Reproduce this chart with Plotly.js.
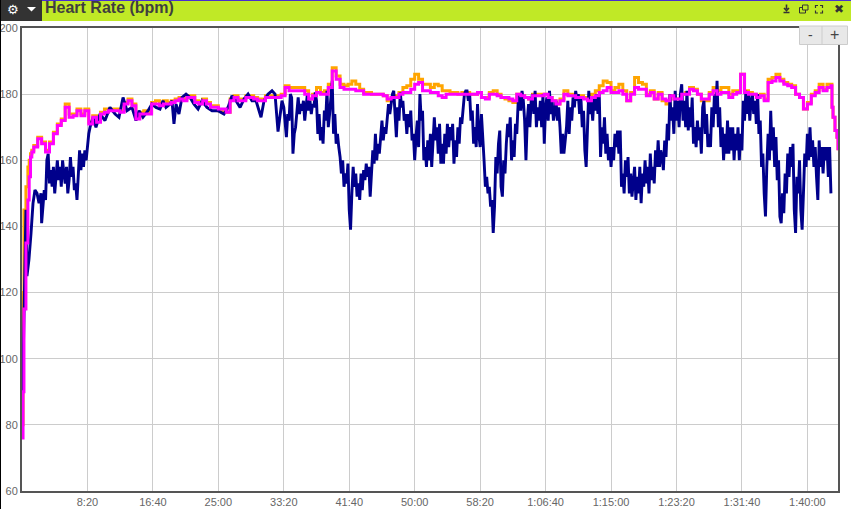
<!DOCTYPE html>
<html><head><meta charset="utf-8">
<script src="https://cdn.plot.ly/plotly-3.0.1.min.js"></script>
<style>html,body{margin:0;padding:0;background:#fff;overflow:hidden}#chart{width:851px;height:509px}</style>
</head><body><div id="chart"></div>
<script>
const chartTitle = "Heart Rate (bpm)";
const xTickSeconds = [500,1000,1500,2000,2500,3000,3500,4000,4500,5000,5500,6000];
const xTickLabels = ["8:20","16:40","25:00","33:20","41:40","50:00","58:20","1:06:40","1:15:00","1:23:20","1:31:40","1:40:00"];
const yTicks = [60,80,100,120,140,160,180,200];

const leadTimes = [0,8,15,30,45,55,65,75];
const magentaLead = [76,90,115,135,148,155,161,162.5];
const orangeLead = [80,120,145,152,158,160,162,163];
const tailTimes = [6188,6196,6211,6226,6234];
const magentaTail = [176,173,169,167,163];
const orangeTail = [176,173,169,167,163];

// sampled every 30 s from t = 90 s to 6180 s
const magentaBpm = [
164,166.5,165,162.5,165,168,170.5,172,176,173,
173.5,175,173.5,175,171,173,171.5,174,174.5,175,
175,175,174.5,177,178,176.5,172.5,174,174,174,
177,177,176.5,177,177,177.5,178,178.5,178,179,
179,177.5,177,178,177,176,176,175.5,175.5,174.5,
178,179,178,178,179,179,178.5,178,178,179,
179,179,179,179.5,182,181,181,181,181,180,
178.5,179.5,180.5,180,180,182,187,184.5,182,181.5,
181.5,181.5,181,181,180,180,180,180,180,179.5,
178.5,179,179,180,180.5,180.5,181.5,183,183.5,181,
181,180.5,180.5,179.5,179,180,180,180,180,180,
180,180,180,180.5,179,178.5,180,180,179.5,179,
179,178.5,178,180,179.5,179,178.5,179.5,179.5,179.5,
180,179,178,177,178,180,179.5,179.5,179,179,
178.5,178,179,179.5,180.5,181,182,180.5,180.5,181,
180,178,180,182,181.5,181.5,179.5,180.5,178.5,180,
178.5,178,179.5,178.5,178.5,180,180,181.5,181,180,
178.5,178.5,180,181,180,180.5,180.5,179,180,180.5,
186,180.5,180,180,179,179.5,178,183.5,184,185,
184,183,182.5,182,180,179,175.5,177,179.5,180.5,
182,181,182,182.5];

const orangeBpm = [
164.5,167,165.5,163,165.5,168.5,171,172.5,177,174,
174,175.5,174,175.5,171.5,173.5,172,174.5,175.5,175.5,
175.5,175.5,175,177.5,178.5,177,173,174.5,175,174.5,
177.5,178,177,178,177.5,178,178.5,179,178.5,179.5,
179.5,178,177.5,178.5,177.5,176.5,176.5,175,174.5,174.5,
178.5,179.5,178.5,178.5,179.5,179.5,179,178.5,178.5,179.5,
179.5,179.5,179.5,180,182.5,182,182,182,182,181,
178.5,180,182,180.5,181,183,188,185.5,183,182.5,
183,184,183,181.5,180.5,180.5,180,180,180,179.5,
178,179,179.5,180.5,182,182.5,184.5,186,184.5,183,
183,182,183,182.5,181,181,180.5,180.5,180,180.5,
180.5,180,180,180.5,179,179,180.5,181,180,179,
178.5,178,177.5,180,179.5,179,178.5,180,180,180,
180,179,178,177,178.5,181,180,180,179.5,179.5,
179,179,180,181,182.5,184,183.5,181,182,183,
181,178,180.5,185,183.5,183,180,181,178.5,180.5,
178,177,179.5,178.5,178.5,180,180.5,182,181.5,180,
178,178,180.5,182,181,182,182,180,181,181,
186,181,180.5,180,179.5,180,178.5,184.5,185,186,
184.5,183.5,183,182.5,180,179,175.5,177.5,180,181,
183,181.5,183,183];

// dark blue trace: warm-up points, then every 10 s from 150 s to 510 s
const blueWarmupTimes = [0,8,15,30,38,53,69,84,99,115,130,145];
const blueWarmupBpm = [80,100,118,145,125,130,138,147,151,150,147,150];
const blueClimbBpm = [
141,146,151,148,160,162,153,157,152,158,
150,155,160,154,158,152,160,156,153,158,
150,154,161,155,158,151,153,148,156,163,
157,162,158,163,160,165,168];

// settled section, read at irregular times
const blueSteadyTimes = [520,542,565,596,634,672,711,741,772,802,840,871,894,924,963,993,1024,1054,1077,1100,
1131,1146,1161,1177,1199,1222,1253,1284,1314,1345,1375,1413,1452,1497,1543,1574,1604,1635,1666,1696,
1727,1757,1788,1803,1826,1849,1879,1910,1933,1956,1986];
const blueSteadyBpm = [170,173,170,174,172,176,174,173,179,175,176,172,175,173,175,177,176,175.5,178,176,
177,178,171,177,174,179,180,179,177,175.5,178,176,175,175,174,176,179.5,178,176,178.5,
180,178,178,176,173,178,180,181,180,168.7,178];

// main section, every 10 s from 2000 s
const blueMainBpm = [
176,170,167,174,172,180,179,162,168,170,
176,179,174,177,175,178,172,177,180,175,
178,174,177,176,180.5,178,168,174,166,170,
165,175,172,181,170,174,178,184,168,174,
165,168,164,161,156,160,152,156,153,159,
145,139,150,158,152,156,149,153,148,156,
151,157,154,159,155,158,149,158,163,159,
168,160,165,162,168,172,166,170,168,173,
177,174,178,180,181,174,167,176,172,180.5,
176,178,172,174,168,174,170,175,166,168,
160,167,172,164,180,172,175,160,164,158,
166,160,168,158,165,173,166,170,162,171,
159,165,159,168,162,171,164,170,166,171,
159,166,161,170,165,173,171,177,180,181,
181,178,180,172,175,165,170,164,177,168,
164,174,168,160,152,155,150,152,146,148,
138,146,161,156,165,169,152,149,160,156,
165,171,167,173,160,166,161,171,168,177,
180,175,181,178,172,160,172,177,170,178,
180,174,181,170,176,172,178,170,180,165,
176,179,172,181,174,178,172,176,178,172,
176,170,162,168,162,166,170,178,168,176,
172,179,176,181,178,180,174,179,170,175,
163,158,172,181,174,178,172,179,175,180,
174,180,161,170,165,173,162,168,160,164,
158,164,160,168,164,169,162,169,152,156,
150,160,155,161,150,156,149,153,158,148,
155,150,158,147,156,152,160,153,158,150,
162,154,158,153,163,158,166,158,163,161,
157,166,161,171,166,180,172,176,168,181,
172,178,170,180,183,172,178,170,181,169,
176,170,179,165,170,164,172,166,170,162,
176,178,168,174,164,168,164,176,170,180,
174,184,170,176,164,170,160,168,162,172,
162,170,163,170,160,168,163,170,160,168,
163,178,172,181,174,180,172,178,180,174,
178,171,180,168,172,158,162,150,143,158,
168,160,175,163,170,158,167,154,160,143,
141,150,144,156,150,162,155,164,158,165,
145,138,155,150,160,145,139,150,162,158,
168,160,170,161,166,158,164,155,148,166,
158,164,156,164,160,164,155,164,150];

const blueTimes = blueWarmupTimes
  .concat(blueClimbBpm.map((_, i) => 150 + i * 10))
  .concat(blueSteadyTimes)
  .concat(blueMainBpm.map((_, i) => 2000 + i * 10));
const blueBpm = blueWarmupBpm.concat(blueClimbBpm, blueSteadyBpm, blueMainBpm);

const plotLeft = 22, plotRight = 838, plotTop = 28, plotBottom = 491;
const px = x => (x - plotLeft) / (plotRight - plotLeft);
const py = y => (plotBottom - y) / (plotBottom - plotTop);
const rect = (x0,y0,x1,y1,fill,line) => ({type:'rect',xref:'paper',yref:'paper',x0:px(x0),x1:px(x1),y0:py(y0),y1:py(y1),fillcolor:fill,line:{width:line?1:0,color:line||fill},layer:'above'});
const path = (pts,fill,stroke,w) => ({type:'path',xref:'paper',yref:'paper',
  path:pts.map(s=>s.map((p,i)=>(i?'L':'M')+px(p[0])+','+py(p[1])).join(' ')+(fill?' Z':'')).join(' '),
  fillcolor:fill||'rgba(0,0,0,0)',line:{width:stroke?(w||1):0,color:stroke||'rgba(0,0,0,0)'},layer:'above'});

const shapes = [
  rect(0,0,851,21,'#c0e926'),
  rect(0,0,851,1,'#4a2fd0'),
  rect(0,0,42,21,'#333333'),
  rect(0,0,1,509,'#000000'),
  path([[[27,7],[36,7],[31.5,11.5]]],'#ffffff'),
  path([[[786.5,4.5],[786.5,9]],[[784,8],[786.5,10.5],[789,8]],[[783.5,12.5],[789.5,12.5]]],null,'#333333',1.6),
  rect(799.5,7.5,805.5,13,'rgba(0,0,0,0)','#333333'),
  rect(802.5,5,808,10,'#c0e926','#333333'),
  path([[[815.5,8],[815.5,5.5],[818,5.5]],[[820,5.5],[822.5,5.5],[822.5,8]],[[815.5,10.5],[815.5,13],[818,13]],[[820,13],[822.5,13],[822.5,10.5]]],null,'#333333',1.2),
  {type:'rect',xref:'paper',yref:'paper',x0:px(799.5),x1:px(847.5),y0:py(26),y1:py(44.5),fillcolor:'#e8e8e8',line:{width:1,color:'#cccccc'},layer:'above'},
  path([[[822,26],[822,44.5]]],null,'#cccccc',1)
];
const chromeText = (x,y,text,size,color,extra) => Object.assign({xref:'paper',yref:'paper',x:px(x),y:py(y),text,showarrow:false,
  font:{family:'Liberation Sans, Arial, sans-serif',size,color},xanchor:'center',yanchor:'middle'},extra||{});
const annotations = [
  chromeText(43,8,'<b>'+chartTitle+'</b>',16,'#3f3f3f',{xanchor:'left'}),
  chromeText(13,9,'\u2699',13,'#ffffff',{font:{family:'DejaVu Sans',size:13,color:'#ffffff'}}),
  chromeText(838.5,9.5,'\u2716',12,'#333333',{font:{family:'DejaVu Sans',size:12,color:'#333333'}}),
  chromeText(810,35,'-',14,'#444444'),
  chromeText(834,35,'+',16,'#444444')
];

const lineTimes = leadTimes.concat(magentaBpm.map((_, i) => 90 + i * 30), tailTimes);
const traces = [
  {x:lineTimes,y:orangeLead.concat(orangeBpm,orangeTail),mode:'lines',line:{color:'#ffa500',width:3,shape:'hv'},hoverinfo:'skip'},
  {x:blueTimes,y:blueBpm,mode:'lines',line:{color:'#00008b',width:2.9},hoverinfo:'skip'},
  {x:lineTimes,y:magentaLead.concat(magentaBpm,magentaTail),mode:'lines',line:{color:'#ff00ff',width:3,shape:'hv'},hoverinfo:'skip'}
];
const axisFont = {family:'Liberation Sans, Arial, sans-serif',size:11,color:'#666666'};
const layout = {
  width:851,height:509,showlegend:false,paper_bgcolor:'#ffffff',plot_bgcolor:'#ffffff',
  margin:{l:plotLeft,r:851-plotRight,t:plotTop,b:509-plotBottom,pad:0},
  xaxis:{range:[0,6234],tickmode:'array',tickvals:xTickSeconds,ticktext:xTickLabels,tickfont:axisFont,ticks:'',
    showgrid:true,gridcolor:'#cccccc',gridwidth:1,showline:true,mirror:true,linecolor:'#555555',linewidth:2,zeroline:false,tickangle:0},
  yaxis:{range:[60,200],tickmode:'array',tickvals:yTicks,ticktext:yTicks.map(String),tickfont:axisFont,ticks:'',
    showgrid:true,gridcolor:'#cccccc',gridwidth:1,showline:true,mirror:true,linecolor:'#555555',linewidth:2,zeroline:false},
  shapes,annotations
};
Plotly.newPlot('chart',traces,layout,{displayModeBar:false,staticPlot:true});
</script></body></html>
